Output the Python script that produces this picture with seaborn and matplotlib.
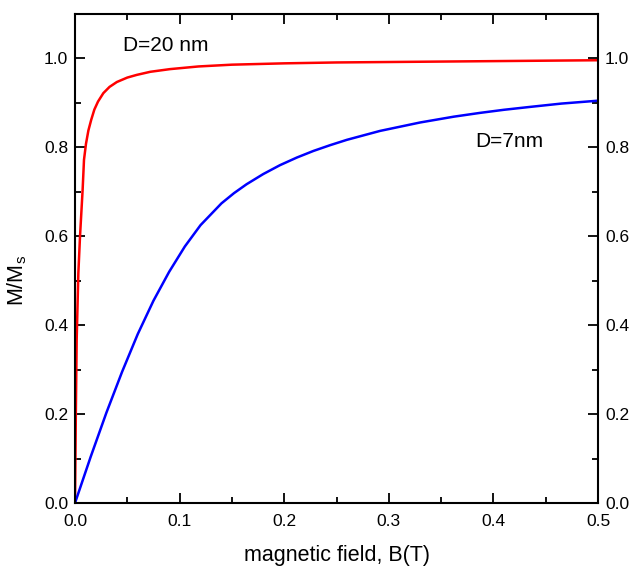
import matplotlib.pyplot as plt
import matplotlib.ticker as mticker
import pandas as pd
import seaborn as sns

# values
b_20nm = [0.0, 0.0008, 0.0016, 0.0032, 0.0048, 0.0073, 0.0086, 0.0105, 0.0128, 0.0155,
          0.0185, 0.022, 0.0271, 0.033, 0.04, 0.05, 0.059, 0.072, 0.0908, 0.118, 0.15,
          0.2, 0.25, 0.3, 0.4, 0.5]
m_20nm = [0.0, 0.20, 0.367, 0.517, 0.60, 0.705, 0.772, 0.808, 0.838, 0.862,
          0.885, 0.903, 0.922, 0.936, 0.947, 0.957, 0.963, 0.970, 0.976, 0.982, 0.986,
          0.989, 0.991, 0.992, 0.994, 0.996]

b_7nm = [0.0, 0.015, 0.03, 0.045, 0.06, 0.075, 0.09, 0.105, 0.12, 0.14, 0.152,
         0.164, 0.18, 0.196, 0.212, 0.228, 0.244, 0.26, 0.2916, 0.33, 0.362, 0.387,
         0.41, 0.435, 0.465, 0.5]
m_7nm = [0.0, 0.104, 0.203, 0.295, 0.380, 0.455, 0.520, 0.577, 0.625, 0.674, 0.697,
         0.717, 0.740, 0.760, 0.777, 0.792, 0.805, 0.817, 0.837, 0.856, 0.869, 0.8775,
         0.8845, 0.891, 0.8985, 0.905]

df = pd.concat([
    pd.DataFrame({"B": b_20nm, "M": m_20nm, "D": "20 nm"}),
    pd.DataFrame({"B": b_7nm, "M": m_7nm, "D": "7 nm"}),
])

sns.set_style("ticks")
plt.rcParams["font.family"] = ["Liberation Sans", "DejaVu Sans"]
plt.rcParams["text.color"] = "black"
plt.rcParams["axes.labelcolor"] = "black"

fig = plt.figure(figsize=(6.34, 5.70), dpi=100)
ax = fig.add_axes([75 / 634, 1 - 503 / 570, (598 - 75) / 634, (503 - 14) / 570])

sns.lineplot(data=df, x="B", y="M", hue="D", palette={"20 nm": "#ff0000", "7 nm": "#0000ff"},
             lw=1.8, ax=ax, legend=False, sort=False, estimator=None)

ax.set_xlim(0, 0.5)
ax.set_ylim(0, 1.1)
ax.xaxis.set_major_locator(mticker.MultipleLocator(0.1))
ax.xaxis.set_minor_locator(mticker.MultipleLocator(0.05))
ax.yaxis.set_major_locator(mticker.FixedLocator([0, 0.2, 0.4, 0.6, 0.8, 1.0]))
ax.yaxis.set_minor_locator(mticker.FixedLocator([0.1, 0.3, 0.5, 0.7, 0.9]))
ax.xaxis.set_major_formatter(mticker.FormatStrFormatter("%.1f"))
ax.yaxis.set_major_formatter(mticker.FormatStrFormatter("%.1f"))
ax.tick_params(which="both", direction="in", top=True, right=True, labelright=True,
               colors="black", width=1.3, labelsize=12.5)
ax.tick_params(which="major", length=7)
ax.tick_params(which="minor", length=4)
ax.tick_params(axis="x", which="major", pad=8)
ax.tick_params(axis="y", which="major", pad=5)
for s in ax.spines.values():
    s.set_visible(True)
    s.set_linewidth(1.5)
    s.set_color("black")

ax.set_xlabel("magnetic field, B(T)", fontsize=15.5)
ax.set_ylabel("M/M$_\\mathregular{s}$", fontsize=15.5)
ax.xaxis.set_label_coords(0.5, -0.086)
ax.yaxis.set_label_coords(-0.088, 0.456)

ax.text(0.046, 1.016, "D=20 nm", fontsize=15)
ax.text(0.383, 0.80, "D=7nm", fontsize=15)

fig.savefig("out.png", dpi=100)
